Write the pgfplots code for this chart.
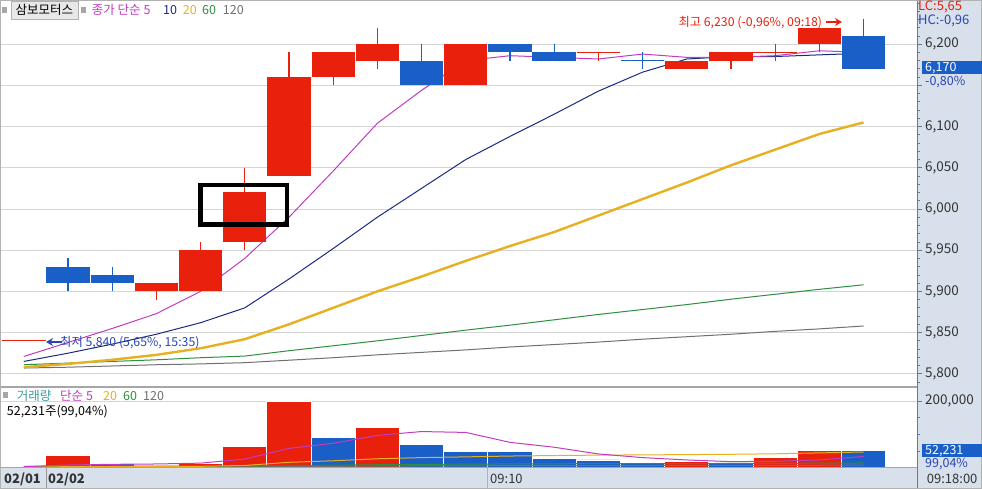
\documentclass[border=0pt]{standalone}
\usepackage{fontspec}
\setmainfont{Noto Sans CJK KR}
\usepackage{pgfplots}
\pgfplotsset{compat=1.18}
\usetikzlibrary{arrows.meta}
\definecolor{cRed}{HTML}{E8200C}
\definecolor{cBlue}{HTML}{1A5FC8}
\definecolor{cMag}{HTML}{C23CC2}
\definecolor{cNavy}{HTML}{1C2A80}
\definecolor{cGold}{HTML}{E8B020}
\definecolor{cGreen}{HTML}{2F8F3F}
\definecolor{cGray}{HTML}{707070}
\definecolor{cBg}{HTML}{D8E0EC}
\definecolor{cGrid}{HTML}{D4D4D4}
\definecolor{cTxt}{HTML}{333333}
\definecolor{cTick}{HTML}{707880}
\definecolor{cTeal}{HTML}{3C9CA0}
\definecolor{cLBlue}{HTML}{2846B4}
\newcommand{\fs}[1]{\fontsize{#1}{#1}\selectfont}
\begin{document}
\begin{tikzpicture}
\useasboundingbox (0pt,0pt) rectangle (982pt,489pt);
\fill[white] (0pt,0pt) rectangle (982pt,489pt);
\fill[cBg] (917pt,0pt) rectangle (982pt,489pt);
\fill[cBg] (0pt,0pt) rectangle (917pt,21pt);

% ---------------- price panel ----------------
\begin{axis}[at={(0pt,489pt)}, anchor=north west, scale only axis,
  width=917pt, height=386pt,
  xmin=-1.538, xmax=19.21, ymin=5785.2, ymax=6253.6,
  axis line style={draw=none}, xtick=\empty,
  ytick={5800,5850,5900,5950,6000,6050,6100,6150,6200},
  yticklabels={{5,800},{5,850},{5,900},{5,950},{6,000},{6,050},{6,100},{},{6,200}},
  minor ytick={5790,5800,...,6250},
  ytick pos=right, yticklabel pos=right, tick align=outside,
  major tick length=5pt, minor tick length=2.5pt,
  tick style={draw=cTick, line width=0.8pt},
  ymajorgrids, grid style={cGrid, line width=0.8pt},
  yticklabel style={anchor=west, inner sep=0pt, xshift=3pt, font=\fs{13.5}, text=cTxt},
  clip=true]
% moving averages (drawn first, candles on top)
\addplot[cGray, line width=1pt] coordinates {(-1,5807) (0,5808) (1,5809.5) (2,5811) (3,5812) (4,5813.5) (5,5816.5) (6,5819.5) (7,5823) (8,5826) (9,5829) (10,5832.5) (11,5835.5) (12,5838.5) (13,5842) (14,5845) (15,5848) (16,5851.5) (17,5854.5) (18,5858)};
\addplot[cGreen, line width=1pt] coordinates {(-1,5811) (0,5813) (1,5815) (2,5817) (3,5819.5) (4,5821.5) (5,5828) (6,5834) (7,5840) (8,5846.5) (9,5853) (10,5859) (11,5865.5) (12,5872) (13,5878) (14,5884) (15,5890.5) (16,5896.5) (17,5902.5) (18,5908)};
\addplot[cGold, line width=2.4pt] coordinates {(-1,5808) (0,5812) (1,5817) (2,5823) (3,5831) (4,5842) (5,5860) (6,5880) (7,5900) (8,5918) (9,5937) (10,5955) (11,5972) (12,5992) (13,6012) (14,6032) (15,6053) (16,6072) (17,6091) (18,6105)};
\addplot[cNavy, line width=1pt] coordinates {(-1,5815) (0,5825) (1,5836) (2,5848) (3,5862) (4,5880) (5,5915) (6,5952) (7,5990) (8,6025) (9,6060) (10,6088) (11,6115) (12,6143) (13,6166) (14,6182) (15,6185) (16,6185) (17,6187) (18,6189)};
\addplot[cMag, line width=1pt] coordinates {(-1,5821) (0,5838) (1,5855) (2,5873) (3,5900) (4,5940) (5,5990) (6,6046) (7,6104) (8,6144) (9,6180) (10,6186) (11,6184) (12,6182) (13,6188) (14,6184) (15,6184) (16,6186) (17,6192) (18,6190)};
% wicks
\addplot[draw=none, mark=none, forget plot, error bars/.cd, y dir=plus, y explicit, error mark=none,
  error bar style={draw=cRed, line width=1.2pt}] table[x=i, y=lo, y error=r] {
i lo r
2 5890 20
3 5900 60
4 5950 100
5 6040 150
6 6150 40
7 6170 50
9 6150 50
12 6180 10
14 6170 10
15 6170 20
16 6180 20
17 6190 30
};
\addplot[draw=none, mark=none, forget plot, error bars/.cd, y dir=plus, y explicit, error mark=none,
  error bar style={draw=cBlue, line width=1.2pt}] table[x=i, y=lo, y error=r] {
i lo r
0 5900 40
1 5900 30
8 6150 50
10 6180 20
11 6180 20
13 6170 20
18 6170 60
};
% bodies
\addplot[draw=none, mark=none, forget plot, error bars/.cd, y dir=plus, y explicit, error mark=none,
  error bar style={draw=cRed, line width=43.3pt}] table[x=i, y=b, y error=h] {
i b h
2 5900 10
3 5900 50
4 5960 60
5 6040 120
6 6160 30
7 6180 20
9 6150 50
14 6170 10
15 6180 10
17 6200 20
};
\addplot[draw=none, mark=none, forget plot, error bars/.cd, y dir=plus, y explicit, error mark=none,
  error bar style={draw=cBlue, line width=43.3pt}] table[x=i, y=b, y error=h] {
i b h
0 5910 20
1 5910 10
8 6150 30
10 6190 10
11 6180 10
18 6170 40
};
% doji
\addplot[draw=none, mark=none, forget plot, error bars/.cd, x dir=both, x explicit, error mark=none,
  error bar style={draw=cRed, line width=1.2pt}] table[x=i, y=p, x error=e] {
i p e
-1 5840 0.5
12 6190 0.49
16 6190 0.49
};
\addplot[draw=none, mark=none, forget plot, error bars/.cd, x dir=both, x explicit, error mark=none,
  error bar style={draw=cBlue, line width=1.2pt}] table[x=i, y=p, x error=e] {
i p e
13 6180 0.49
};
\draw[black, line width=4.3pt] (axis cs:3.0,5981.2) rectangle (axis cs:4.955,6029.4);
\end{axis}

% ---------------- volume panel ----------------
\begin{axis}[at={(0pt,101pt)}, anchor=north west, scale only axis,
  width=917pt, height=80pt,
  xmin=-1.538, xmax=19.21, ymin=0, ymax=238806,
  axis line style={draw=none}, xtick=\empty,
  ytick={200000}, minor ytick={50000,100000,150000},
  scaled y ticks=false,
  ytick pos=right, yticklabel pos=right, tick align=outside,
  major tick length=5pt, minor tick length=2.5pt,
  tick style={draw=cTick, line width=0.8pt},
  ymajorgrids, grid style={cGrid, line width=0.8pt},
  yticklabel style={anchor=west, inner sep=0pt, xshift=3pt, font=\fs{13.5}, text=cTxt,
    /pgf/number format/fixed, /pgf/number format/1000 sep={,}, /pgf/number format/assume math mode=true},
  clip=true]
\addplot[ybar, bar width=1, bar shift=0pt, fill=cRed, draw=white, line width=0.8pt] coordinates {(0,38800) (3,14000) (4,63600) (5,199000) (7,120300) (14,18800) (16,30700) (17,53500)};
\addplot[ybar, bar width=1, bar shift=0pt, fill=cBlue, draw=white, line width=0.8pt] coordinates {(1,14000) (2,3000) (6,90400) (8,71600) (9,50700) (10,50000) (11,29000) (12,24000) (13,14000) (15,17000) (18,52231)};
\addplot[cGray, line width=1pt] coordinates {(-1,3000) (0,3100) (1,3200) (2,3300) (3,3400) (4,3600) (5,4300) (6,4900) (7,5600) (8,6100) (9,6500) (10,6900) (11,7100) (12,7300) (13,7400) (14,7600) (15,7700) (16,7900) (17,8200) (18,8500)};
\addplot[cGreen, line width=1pt] coordinates {(-1,5000) (0,5200) (1,5400) (2,5500) (3,5700) (4,6200) (5,7500) (6,8500) (7,9800) (8,10800) (9,11500) (10,12200) (11,12600) (12,12900) (13,13100) (14,13300) (15,13500) (16,13800) (17,14400) (18,15000)};
\addplot[cGold, line width=1pt] coordinates {(-1,2500) (0,4000) (1,4500) (2,4600) (3,5000) (4,7500) (5,17000) (6,21500) (7,27500) (8,31000) (9,33200) (10,35700) (11,37200) (12,38400) (13,39100) (14,40000) (15,40900) (16,42400) (17,45100) (18,47700)};
\addplot[cMag, line width=1pt] coordinates {(-1,4000) (0,9000) (1,11000) (2,12000) (3,14500) (4,26700) (5,58500) (6,73800) (7,97300) (8,108800) (9,106200) (10,76600) (11,62000) (12,42000) (13,31000) (14,24000) (15,19000) (16,20000) (17,24000) (18,34400)};
\end{axis}

% ---------------- frame lines ----------------
\draw[cTick, line width=1pt] (917pt,0pt) -- (917pt,489pt);
\draw[gray!70, line width=1.5pt] (0pt,102pt) -- (917pt,102pt);
\draw[gray!70, line width=1pt] (0pt,21pt) -- (917pt,21pt);
\draw[gray!80, line width=1pt] (46pt,0pt) -- (46pt,21pt);
\draw[gray!60, line width=0.8pt] (487.5pt,0pt) -- (487.5pt,21pt);
\draw[gray!60, line width=1pt] (0.5pt,0.5pt) rectangle (981.5pt,488.5pt);

% ---------------- top legend ----------------
\fill[gray!70] (2pt,476pt) rectangle (7pt,482pt);
\draw[fill=gray!18, draw=gray!60] (11pt,470pt) rectangle (78pt,488pt);
\node[inner sep=0pt, font=\fs{12.5}, text=black] at (44.5pt,479pt) {삼보모터스};
\fill[gray!70] (81pt,476pt) rectangle (86pt,482pt);
\node[anchor=base west, inner sep=0pt, font=\fs{12.5}, text=cMag] at (91.7pt,474pt) {종가 단순 5};
\node[anchor=base west, inner sep=0pt, font=\fs{12.5}, text=cNavy] at (163pt,474pt) {10};
\node[anchor=base west, inner sep=0pt, font=\fs{12.5}, text=cGold] at (182.7pt,474pt) {20};
\node[anchor=base west, inner sep=0pt, font=\fs{12.5}, text=cGreen] at (202pt,474pt) {60};
\node[anchor=base west, inner sep=0pt, font=\fs{12.5}, text=cGray] at (222.7pt,474pt) {120};

% ---------------- annotations ----------------
\node[anchor=base west, inner sep=0pt, font=\fs{12.3}, text=cRed] at (678.3pt,462pt) {최고 6,230 (-0,96\%, 09:18)};
\draw[cRed, line width=1.3pt, -{Stealth[length=7pt,width=8pt]}] (826pt,467pt) -- (842pt,467pt);
\node[anchor=base west, inner sep=0pt, font=\fs{12.3}, text=cLBlue] at (60pt,142.5pt) {최저 5,840 (5,65\%, 15:35)};
\draw[cLBlue, line width=1.3pt, -{Stealth[length=7pt,width=8pt]}] (62pt,147pt) -- (46pt,147pt);

% ---------------- right side labels ----------------
\node[anchor=base west, inner sep=0pt, font=\fs{13}, text=cRed] at (918pt,478.5pt) {LC:5,65};
\node[anchor=base west, inner sep=0pt, font=\fs{13}, text=cLBlue] at (918pt,464.5pt) {HC:-0,96};
\fill[cBlue] (922pt,415pt) rectangle (982pt,428pt);
\node[anchor=base west, inner sep=0pt, font=\fs{12.5}, text=white] at (925pt,417pt) {6,170};
\node[anchor=base west, inner sep=0pt, font=\fs{12.5}, text=cLBlue] at (925pt,403pt) {-0,80\%};
\fill[cBlue] (922pt,32pt) rectangle (982pt,45pt);
\node[anchor=base west, inner sep=0pt, font=\fs{12.5}, text=white] at (925pt,34pt) {52,231};
\node[anchor=base west, inner sep=0pt, font=\fs{12.5}, text=cLBlue] at (925pt,21.5pt) {99,04\%};

% ---------------- volume legend ----------------
\fill[gray!70] (3pt,91pt) rectangle (8pt,97pt);
\node[anchor=base west, inner sep=0pt, font=\fs{12.5}, text=cTeal] at (16.7pt,88pt) {거래량};
\node[anchor=base west, inner sep=0pt, font=\fs{12.5}, text=cMag] at (60pt,88pt) {단순 5};
\node[anchor=base west, inner sep=0pt, font=\fs{12.5}, text=cGold] at (103pt,88pt) {20};
\node[anchor=base west, inner sep=0pt, font=\fs{12.5}, text=cGreen] at (123pt,88pt) {60};
\node[anchor=base west, inner sep=0pt, font=\fs{12.5}, text=cGray] at (143pt,88pt) {120};
\node[anchor=base west, inner sep=0pt, font=\fs{12.5}, text=black] at (6.7pt,73pt) {52,231주(99,04\%)};

% ---------------- bottom strip ----------------
\node[anchor=base west, inner sep=0pt, font=\fs{13}\bfseries, text=cTxt] at (4pt,5pt) {02/01};
\node[anchor=base west, inner sep=0pt, font=\fs{13}\bfseries, text=cTxt] at (48pt,5pt) {02/02};
\node[anchor=base west, inner sep=0pt, font=\fs{13}, text=cTxt] at (490pt,5pt) {09:10};
\node[anchor=base west, inner sep=0pt, font=\fs{13}, text=cTxt] at (926.7pt,5pt) {09:18:00};
\end{tikzpicture}
\end{document}
